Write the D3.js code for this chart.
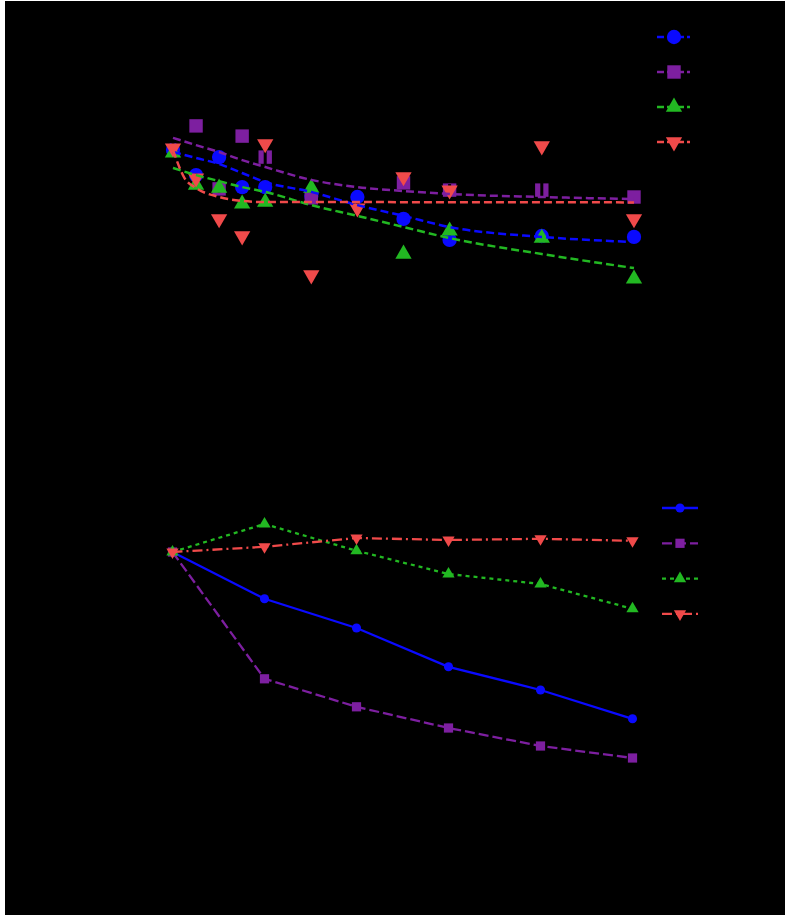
<!DOCTYPE html>
<html>
<head>
<meta charset="utf-8">
<script src="https://cdn.jsdelivr.net/npm/d3@7"></script>
<style>
  html, body { margin: 0; padding: 0; background: #ffffff; }
  svg { display: block; font-family: "DejaVu Sans", sans-serif; }
</style>
</head>
<body>
<svg id="chart" width="785" height="915"></svg>
<script>
// ---- data -------------------------------------------------------------
const seriesNames = ["Control", "Low dose", "Mid dose", "High dose"];
const seriesColors = ["#0a0aff", "#7d1fa0", "#22b822", "#f04a4a"];

// upper panel: measured values per day (null = not measured)
const days = [0, 1, 2, 3, 4, 6, 8, 10, 12, 16, 20];
const obsControl = [76.7, 68.3, 74.3, 64.3, 64.3, 61.3, 61.0, 53.7, 46.7, 48.0, 47.7];
const obsLow     = [null, 84.7, 63.7, 81.3, 74.3, 60.7, null, 65.7, 63.3, 63.3, 61.0];
const obsMid     = [75.7, 65.0, 64.0, 58.7, 59.3, 64.0, null, 42.0, 49.7, 47.3, 33.7];
const obsHigh    = [77.3, 67.3, 53.7, 48.0, 78.7, 35.0, 57.3, 67.7, 63.3, 78.0, 53.7];

// standard errors of the measured values
const errControl = [1.5, 1.5, 1.5, 1.5, 1.5, 1.5, 1.5, 1.5, 1.5, 1.5, 1.5];
const errLow     = [1.5, 1.5, 1.5, 1.5, 1.5, 1.5, 1.5, 1.5, 1.5, 1.5, 1.5];
const errMid     = [1.5, 1.5, 1.5, 1.5, 1.5, 1.5, 1.5, 1.5, 1.5, 1.5, 1.5];
const errHigh    = [2, 1.5, 2, 2, 6.7, 2, 2, 2, 2, 19, 2];

// fitted decay curves
const fitDays     = [0, 1, 2, 3, 4, 6, 8, 10, 12, 16, 20];
const fitControl  = [76.0, 74.0, 72.0, 69.0, 66.0, 62.7, 58.3, 54.7, 51.0, 47.7, 46.0];
const fitLow      = [80.7, 78.3, 76.0, 73.3, 71.0, 66.7, 64.3, 63.0, 62.0, 61.0, 60.3];
const fitMid      = [70.7, 68.3, 66.3, 64.3, 62.7, 58.3, 54.7, 51.0, 47.3, 42.0, 37.3];
const fitHighDays = [0, 0.5, 1, 2, 3, 4, 6, 20];
const fitHigh     = [76.7, 67.3, 64.0, 61.0, 59.7, 59.3, 59.3, 59.2];

// lower panel: relative change (%) against day 0
const weekDays = [0, 4, 8, 12, 16, 20];
const relControl = [100, 88.3, 81.0, 71.3, 65.5, 58.3];
const relLow     = [100, 68.3, 61.3, 56.0, 51.5, 48.5];
const relMid     = [100, 107.0, 100.3, 94.5, 92.0, 85.8];
const relHigh    = [100, 101.3, 103.5, 103.0, 103.3, 102.8];

const topTicksY = [20, 40, 60, 80, 100];
const bottomTicksY = [40, 60, 80, 100, 120];
const ticksX = [0, 5, 10, 15, 20];

// ---- layout -----------------------------------------------------------
const svg = d3.select("#chart");
svg.append("rect").attr("x", 5).attr("y", 1).attr("width", 780).attr("height", 914).attr("fill", "#000");

const xTop = d3.scaleLinear().domain([0, 20]).range([173, 634]);
const yTop = d3.scaleLinear().domain([20, 100]).range([320, 80]);
const xBot = d3.scaleLinear().domain([0, 20]).range([172.5, 632.5]);
const yBot = d3.scaleLinear().domain([40, 120]).range([792, 472]);

const ink = "#000";

// axes (drawn in the page ink)
function styleAxis(g) {
  g.selectAll("path, line").attr("stroke", ink);
  g.selectAll("text").attr("fill", ink).attr("font-size", 12);
}
svg.append("g").attr("transform", "translate(0,330)")
  .call(d3.axisBottom(d3.scaleLinear().domain([-1, 21]).range([150, 657])).tickValues(ticksX)).call(styleAxis);
svg.append("g").attr("transform", "translate(150,0)")
  .call(d3.axisLeft(yTop).tickValues(topTicksY)).call(styleAxis);
svg.append("g").attr("transform", "translate(0,800)")
  .call(d3.axisBottom(d3.scaleLinear().domain([-1, 21]).range([149.5, 655.5])).tickValues(ticksX)).call(styleAxis);
svg.append("g").attr("transform", "translate(150,0)")
  .call(d3.axisLeft(yBot).tickValues(bottomTicksY)).call(styleAxis);

svg.append("text").attr("x", 404).attr("y", 368).attr("text-anchor", "middle")
  .attr("fill", ink).attr("font-size", 14).text("Time (days)");
svg.append("text").attr("x", 404).attr("y", 838).attr("text-anchor", "middle")
  .attr("fill", ink).attr("font-size", 14).text("Time (days)");
svg.append("text").attr("transform", "translate(100,200) rotate(-90)").attr("text-anchor", "middle")
  .attr("fill", ink).attr("font-size", 14).text("Measured value");
svg.append("text").attr("transform", "translate(100,632) rotate(-90)").attr("text-anchor", "middle")
  .attr("fill", ink).attr("font-size", 14).text("Relative change (%)");

// marker symbols
const bigSymbols = [
  d3.symbol().type(d3.symbolCircle).size(160),
  d3.symbol().type(d3.symbolSquare).size(180),
  d3.symbol().type(d3.symbolTriangle).size(115),
  d3.symbol().type(d3.symbolTriangle).size(115)
];
const smallSymbols = [
  d3.symbol().type(d3.symbolCircle).size(65),
  d3.symbol().type(d3.symbolSquare).size(85),
  d3.symbol().type(d3.symbolTriangle).size(65),
  d3.symbol().type(d3.symbolTriangle).size(65)
];
const rotations = [0, 0, 0, 180];

// ---- upper panel: measured points with error bars ----------------------
const obs = [obsControl, obsLow, obsMid, obsHigh];
const errs = [errControl, errLow, errMid, errHigh];
obs.forEach((vals, s) => {
  const pts = days.map((d, i) => ({ d, v: vals[i], e: errs[s][i] })).filter(p => p.v !== null);
  const g = svg.append("g");
  g.selectAll("line.err").data(pts).join("line")
    .attr("x1", p => xTop(p.d)).attr("x2", p => xTop(p.d))
    .attr("y1", p => yTop(p.v - p.e)).attr("y2", p => yTop(p.v + p.e))
    .attr("stroke", ink).attr("stroke-width", 3);
  g.selectAll("path.pt").data(pts).join("path")
    .attr("d", bigSymbols[s])
    .attr("transform", p => `translate(${xTop(p.d)},${yTop(p.v)}) rotate(${rotations[s]})`)
    .attr("fill", seriesColors[s]);
});

// fitted curves over the points
const fits = [
  [fitDays, fitControl], [fitDays, fitLow], [fitDays, fitMid], [fitHighDays, fitHigh]
];
fits.forEach(([xs, ys], s) => {
  const line = d3.line().x((d, i) => xTop(xs[i])).y(d => yTop(d)).curve(d3.curveMonotoneX);
  svg.append("path").attr("d", line(ys)).attr("fill", "none")
    .attr("stroke", seriesColors[s]).attr("stroke-width", 2.5).attr("stroke-dasharray", "8,4");
});

// ---- lower panel: relative change lines --------------------------------
const rel = [relControl, relLow, relMid, relHigh];
const dashes = [null, "10,4", "4,4", "10,4,2,4"];
rel.forEach((vals, s) => {
  const line = d3.line().x((d, i) => xBot(weekDays[i])).y(d => yBot(d));
  svg.append("path").attr("d", line(vals)).attr("fill", "none")
    .attr("stroke", seriesColors[s]).attr("stroke-width", 2.3)
    .attr("stroke-dasharray", dashes[s]);
  svg.append("g").selectAll("path").data(vals).join("path")
    .attr("d", smallSymbols[s])
    .attr("transform", (d, i) => `translate(${xBot(weekDays[i])},${yBot(d)}) rotate(${rotations[s]})`)
    .attr("fill", seriesColors[s]);
});

// ---- legends -----------------------------------------------------------
const topLegend = svg.append("g").attr("transform", "translate(657,37)");
seriesNames.forEach((name, s) => {
  const g = topLegend.append("g").attr("transform", `translate(0,${s * 35})`);
  g.append("line").attr("x1", 0).attr("x2", 33).attr("stroke", seriesColors[s])
    .attr("stroke-width", 2.5).attr("stroke-dasharray", "7,3");
  g.append("path").attr("d", bigSymbols[s]).attr("transform", `translate(17,0) rotate(${rotations[s]})`)
    .attr("fill", seriesColors[s]);
  g.append("text").attr("x", 40).attr("y", 4).attr("fill", ink).attr("font-size", 12).text(name);
});

const botLegend = svg.append("g").attr("transform", "translate(662,508)");
seriesNames.forEach((name, s) => {
  const g = botLegend.append("g").attr("transform", `translate(0,${s * 35.3})`);
  g.append("line").attr("x1", 0).attr("x2", 36).attr("stroke", seriesColors[s])
    .attr("stroke-width", 2.3).attr("stroke-dasharray", dashes[s]);
  g.append("path").attr("d", smallSymbols[s]).attr("transform", `translate(18,0) rotate(${rotations[s]})`)
    .attr("fill", seriesColors[s]);
  g.append("text").attr("x", 44).attr("y", 4).attr("fill", ink).attr("font-size", 12).text(name);
});
</script>
</body>
</html>
